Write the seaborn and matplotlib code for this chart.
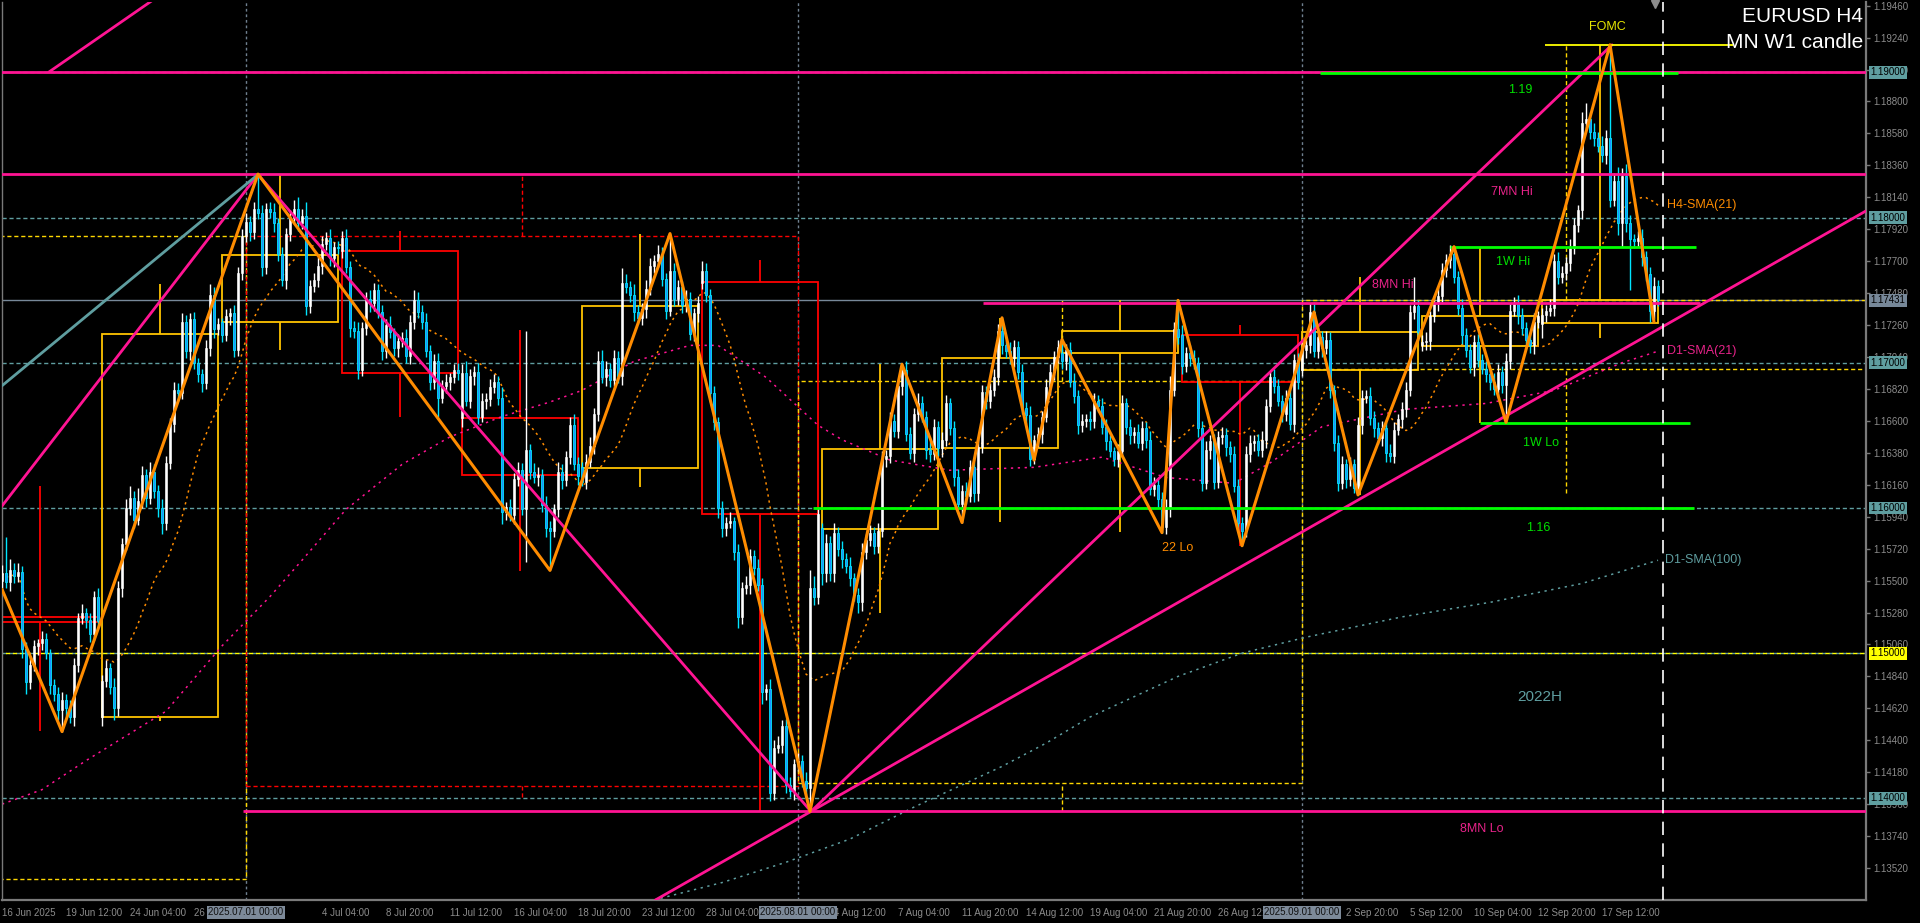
import numpy as np
import pandas as pd
import matplotlib
matplotlib.use("Agg")
import matplotlib.pyplot as plt
import matplotlib.transforms as mtransforms
from matplotlib.patches import Rectangle
import seaborn as sns

# ---------------------------------------------------------------- data
price_base = 1.1
pip = 0.0001
first_open_pips = 550

# H4 closes, pips above 1.1000 (16 Jun 20:00 ... 19 Sep)
close_pips = [
    555, 549, 557, 553, 556, 503, 480, 492, 505, 507, 510, 500, 478, 472, 461,
    468, 462, 456, 492, 524, 528, 523, 513, 539, 522, 481, 490, 477, 462, 545,
    575, 600, 607, 592, 605, 623, 607, 625, 612, 600, 590, 631, 658, 681, 679,
    728, 708, 730, 700, 692, 686, 710, 747, 723, 727, 719, 732, 734, 709, 762,
    787, 797, 790, 806, 803, 766, 806, 804, 796, 775, 757, 789, 800, 806, 796,
    801, 739, 753, 757, 767, 782, 786, 772, 780, 779, 786, 766, 724, 722, 695,
    724, 744, 741, 750, 735, 708, 726, 721, 710, 715, 717, 705, 728, 743, 735,
    728, 708, 687, 701, 676, 684, 687, 690, 695, 693, 693, 674, 691, 694, 663,
    674, 675, 683, 687, 676, 597, 601, 595, 620, 626, 599, 640, 625, 621, 623,
    602, 586, 584, 599, 625, 619, 635, 657, 630, 622, 618, 632, 643, 665, 701,
    690, 696, 688, 703, 691, 755, 752, 747, 735, 731, 737, 751, 767, 770, 775,
    758, 736, 763, 744, 752, 740, 744, 720, 734, 741, 763, 747, 679, 659, 600,
    586, 590, 591, 570, 525, 545, 547, 567, 559, 547, 473, 475, 404, 435, 437,
    450, 409, 405, 424, 426, 412, 407, 545, 539, 596, 555, 576, 555, 583, 572,
    565, 560, 552, 540, 535, 570, 578, 583, 574, 584, 634, 636, 660, 653, 684,
    695, 651, 638, 665, 672, 663, 640, 637, 656, 641, 647, 672, 655, 621, 603,
    612, 608, 628, 610, 642, 680, 674, 681, 690, 722, 712, 708, 703, 711, 694,
    669, 664, 634, 647, 651, 663, 683, 694, 704, 711, 701, 709, 687, 677, 657,
    660, 661, 660, 674, 670, 656, 646, 639, 634, 639, 672, 656, 650, 652, 645,
    655, 647, 613, 616, 606, 587, 600, 681, 723, 718, 698, 707, 703, 700, 655,
    617, 640, 646, 618, 649, 650, 642, 637, 615, 590, 584, 637, 645, 646, 640,
    647, 670, 690, 684, 674, 665, 676, 658, 702, 687, 709, 712, 735, 708, 718,
    710, 716, 681, 645, 617, 630, 620, 630, 614, 657, 676, 677, 662, 655, 648,
    655, 638, 636, 654, 661, 668, 681, 735, 739, 721, 714, 715, 732, 741, 746,
    764, 771, 775, 759, 738, 719, 709, 697, 714, 702, 696, 692, 687, 682, 694,
    685, 701, 736, 741, 733, 724, 716, 712, 728, 732, 733, 736, 738, 770, 759,
    762, 769, 779, 795, 805, 865, 868, 859, 855, 849, 843, 855, 812, 825, 796,
    829, 796, 785, 784, 786, 773, 761, 736, 753, 743,
]
upper_wick_pips = [
    6, 25, 8, 5, 6, 4, 5, 6, 4, 3, 5, 4, 3, 4, 5,
    5, 4, 6, 5, 4, 6, 3, 5, 4, 6, 4, 5, 3, 6, 5,
    4, 6, 8, 5, 9, 6, 4, 7, 5, 4, 6, 5, 4, 6, 5,
    6, 5, 4, 5, 3, 4, 6, 7, 5, 4, 3, 5, 4, 6, 4,
    5, 6, 4, 5, 24, 6, 4, 5, 6, 4, 5, 4, 5, 6, 8,
    5, 10, 4, 5, 6, 5, 4, 6, 3, 4, 5, 6, 4, 5, 6,
    4, 5, 6, 5, 4, 5, 4, 6, 3, 5, 4, 6, 5, 7, 6,
    5, 6, 4, 5, 6, 4, 5, 3, 4, 5, 6, 8, 5, 4, 6,
    5, 4, 6, 5, 4, 7, 3, 5, 4, 6, 5, 82, 4, 6, 5,
    4, 6, 5, 4, 7, 5, 4, 6, 8, 5, 4, 5, 6, 4, 7,
    8, 5, 4, 6, 5, 10, 6, 4, 7, 5, 4, 6, 5, 4, 6,
    5, 4, 26, 6, 5, 4, 6, 5, 4, 5, 7, 6, 4, 5, 4,
    5, 4, 6, 3, 5, 4, 6, 5, 4, 6, 5, 4, 7, 5, 6,
    4, 5, 6, 3, 5, 4, 6, 12, 8, 5, 4, 6, 5, 7, 4,
    5, 4, 6, 3, 5, 6, 4, 5, 4, 6, 5, 4, 6, 5, 4,
    4, 6, 5, 4, 7, 5, 4, 6, 5, 4, 5, 6, 4, 5, 6,
    4, 6, 5, 4, 6, 5, 4, 5, 6, 5, 9, 4, 6, 5, 4,
    5, 4, 6, 3, 5, 4, 6, 5, 4, 5, 6, 4, 5, 6, 4,
    5, 4, 6, 5, 4, 6, 5, 4, 3, 5, 6, 4, 5, 4, 6,
    5, 4, 6, 5, 4, 5, 6, 10, 5, 20, 7, 4, 5, 6, 4,
    5, 6, 4, 5, 4, 6, 5, 4, 6, 5, 4, 6, 5, 4, 5,
    6, 5, 4, 6, 5, 4, 5, 6, 4, 5, 6, 4, 6, 7, 5,
    4, 6, 5, 4, 5, 6, 4, 5, 4, 6, 5, 4, 6, 5, 4,
    5, 4, 6, 5, 4, 5, 6, 5, 20, 4, 5, 6, 4, 5, 6,
    5, 4, 6, 5, 4, 6, 5, 4, 5, 6, 4, 5, 4, 6, 5,
    4, 6, 5, 4, 6, 5, 4, 5, 6, 4, 5, 4, 6, 5, 6,
    5, 4, 6, 5, 4, 8, 11, 5, 6, 4, 7, 5, 64, 6, 10,
    5, 8, 6, 4, 5, 6, 4, 5, 6, 4,
]
lower_wick_pips = [
    5, 4, 6, 5, 4, 6, 8, 5, 4, 6, 5, 4, 6, 5, 7,
    15, 5, 4, 6, 5, 4, 6, 5, 4, 5, 6, 4, 5, 8, 5,
    6, 4, 5, 6, 4, 5, 6, 4, 5, 6, 8, 5, 4, 6, 5,
    4, 5, 6, 4, 5, 6, 4, 5, 6, 4, 5, 4, 6, 5, 4,
    5, 4, 6, 5, 4, 6, 5, 4, 6, 5, 4, 6, 5, 4, 5,
    4, 6, 5, 4, 5, 6, 4, 5, 6, 4, 5, 4, 6, 5, 6,
    4, 5, 6, 5, 4, 6, 5, 4, 5, 6, 4, 5, 6, 5, 4,
    5, 4, 6, 5, 13, 4, 5, 6, 4, 5, 6, 4, 5, 6, 5,
    4, 6, 5, 4, 5, 8, 5, 4, 6, 5, 4, 36, 5, 4, 6,
    5, 6, 27, 4, 5, 6, 4, 5, 4, 6, 3, 5, 4, 6, 5,
    4, 6, 5, 4, 5, 6, 4, 5, 6, 4, 5, 6, 4, 5, 4,
    5, 6, 4, 5, 4, 6, 5, 4, 5, 6, 4, 5, 6, 5, 7,
    6, 5, 4, 6, 8, 5, 4, 6, 5, 4, 8, 5, 6, 5, 4,
    6, 5, 4, 6, 5, 4, 5, 16, 6, 5, 8, 6, 5, 6, 5,
    6, 5, 6, 4, 7, 6, 5, 4, 6, 5, 4, 6, 5, 4, 5,
    6, 5, 4, 6, 5, 4, 6, 5, 4, 5, 6, 4, 5, 6, 4,
    13, 5, 4, 6, 5, 4, 6, 5, 4, 5, 6, 5, 4, 6, 5,
    4, 6, 5, 4, 5, 6, 4, 5, 6, 4, 5, 6, 4, 5, 6,
    5, 4, 6, 5, 4, 5, 6, 4, 5, 6, 4, 5, 6, 5, 4,
    5, 6, 4, 5, 6, 4, 5, 6, 4, 5, 6, 4, 5, 4, 6,
    5, 4, 6, 5, 4, 5, 6, 5, 4, 6, 10, 4, 5, 6, 4,
    5, 6, 4, 5, 4, 6, 5, 4, 6, 5, 4, 6, 5, 4, 5,
    6, 4, 5, 6, 5, 4, 6, 5, 4, 5, 6, 4, 5, 6, 4,
    5, 6, 4, 5, 4, 6, 5, 4, 5, 6, 4, 5, 6, 4, 5,
    4, 5, 6, 4, 5, 6, 5, 4, 6, 5, 4, 5, 6, 4, 5,
    6, 26, 5, 4, 6, 5, 4, 5, 6, 4, 10, 5, 4, 6, 5,
    4, 5, 6, 4, 5, 6, 4, 5, 6, 4, 5, 6, 5, 4, 8,
    16, 6, 35, 5, 4, 6, 5, 8, 6, 4,
]
# weekly opening gaps (bar, open in pips)
gap_bars = [25, 55, 85, 115, 145, 175, 205, 235, 265, 295, 325, 355, 385]
gap_open_pips = [456, 728, 777, 662, 628, 755, 586, 641, 707, 719, 695, 712, 727]

# W1 candles drawn as boxes
week_start = [-5, 25, 55, 85, 115, 145, 175, 205, 235, 265, 295, 325, 355, 385]
week_open = [1.15249, 1.14560, 1.17281, 1.17770, 1.16620, 1.16278, 1.17555,
             1.15855, 1.16411, 1.17066, 1.17192, 1.16950, 1.17116, 1.17272]
week_high = [1.16149, 1.17542, 1.18297, 1.17907, 1.17223, 1.17890, 1.17705,
             1.16990, 1.17307, 1.17433, 1.17261, 1.17593, 1.17800, 1.19190]
week_low = [1.14464, 1.14535, 1.17090, 1.16629, 1.15569, 1.16147, 1.13906,
            1.15280, 1.15905, 1.15837, 1.15738, 1.16089, 1.16587, 1.17169]
week_close = [1.15215, 1.17196, 1.17741, 1.16928, 1.16227, 1.17391, 1.15956,
              1.16404, 1.17031, 1.17219, 1.16870, 1.17210, 1.17323, 1.17431]

# MN candles drawn as dashed boxes
month_start = [-60, 61, 199, 325]
month_end = [61, 199, 325, 480]
month_open = [1.13444, 1.17872, 1.14104, 1.16960]
month_close = [1.17872, 1.14082, 1.16876, 1.17431]
month_wick_bar = [None, 130, 265, 391]
month_high = [None, 1.18297, 1.17433, 1.19190]
month_low = [None, 1.14009, 1.13913, 1.16103]

# zigzag pivots
zz_bars = [0, 15, 64, 137, 167, 202, 225, 240, 250, 258, 265, 290, 294, 310,
           328, 339, 363, 376, 402, 413]
zz_prices = [1.1544, 1.1446, 1.1830, 1.1557, 1.1789, 1.1391, 1.1699, 1.1590,
             1.1731, 1.1633, 1.1716, 1.1583, 1.1743, 1.1574, 1.1735, 1.1609,
             1.1780, 1.1659, 1.1919, 1.1728]

# daily moving averages
d1_sma21_bars = [0, 10, 21, 41, 55, 67, 75, 86, 100, 112, 125, 137, 145, 158, 172,
                 179, 191, 204, 210, 222, 237, 258, 275, 291, 308, 317, 330,
                 351, 371, 388, 405, 414]
d1_sma21 = [1.1396, 1.1406, 1.1426, 1.1460, 1.1505, 1.1539, 1.1564, 1.1599, 1.1630,
            1.1649, 1.1663, 1.1673, 1.1681, 1.1701, 1.1712, 1.1712, 1.1690,
            1.1657, 1.1647, 1.1633, 1.1626, 1.1628, 1.1635, 1.1621, 1.1617,
            1.1631, 1.1656, 1.1668, 1.1672, 1.1681, 1.1700, 1.1708]
d1_sma100_bars = [163, 180, 196, 212, 228, 250, 261, 272, 283, 294, 310, 326, 350,
                  372, 395, 414]
d1_sma100 = [1.1330, 1.1342, 1.1356, 1.1372, 1.1394, 1.1422, 1.1438, 1.1456,
             1.1470, 1.1484, 1.1500, 1.1511, 1.1525, 1.1535, 1.1548, 1.1564]

round_levels = [1.19, 1.18, 1.17, 1.16, 1.15, 1.14]
current_price = 1.17431
level_1_19 = 1.1900
mn7_hi = 1.18297
mn8_hi = 1.17414
mn8_lo = 1.13913
fomc_high = 1.19190
w1_hi = 1.17800
w1_lo = 1.16587
level_1_16 = 1.1600
level_1_19g = 1.18995

ytick_labels = ["1.19460", "1.19240", "1.19020", "1.18800", "1.18580", "1.18360",
                "1.18140", "1.17920", "1.17700", "1.17480", "1.17260", "1.17040",
                "1.16820", "1.16600", "1.16380", "1.16160", "1.15940", "1.15720",
                "1.15500", "1.15280", "1.15060", "1.14840", "1.14620", "1.14400",
                "1.14180", "1.13960", "1.13740", "1.13520"]
# labels hidden under the period-separator tags are left out
xtick_bars = [0, 16, 32, 48, 80, 96, 112, 128, 144, 160, 176, 208, 224,
              240, 256, 272, 288, 304, 336, 352, 368, 384, 400]
xtick_labels = ["16 Jun 2025", "19 Jun 12:00", "24 Jun 04:00", "26 Jun 20:00",
                "4 Jul 04:00", "8 Jul 20:00", "11 Jul 12:00",
                "16 Jul 04:00", "18 Jul 20:00", "23 Jul 12:00", "28 Jul 04:00",
                "4 Aug 12:00", "7 Aug 04:00", "11 Aug 20:00",
                "14 Aug 12:00", "19 Aug 04:00", "21 Aug 20:00", "26 Aug 12:00",
                "2 Sep 20:00", "5 Sep 12:00", "10 Sep 04:00",
                "12 Sep 20:00", "17 Sep 12:00"]
period_bars = [61, 199, 325]
period_labels = ["2025.07.01 00:00", "2025.08.01 00:00", "2025.09.01 00:00"]

# ---------------------------------------------------------------- style
sns.set_theme(style="dark")
plt.rcParams["font.family"] = ["Liberation Sans", "DejaVu Sans"]
plt.rcParams["axes.facecolor"] = "black"
plt.rcParams["figure.facecolor"] = "black"

PINK = "#FF1493"
PINK_TXT = "#E8238A"
TEAL = "#5F9EA0"
GREEN = "#00FF00"
ORANGE = "#FF8C00"
WYEL = "#FFC400"
MYEL = "#FFD700"
RED = "#FF0000"
GREY = "#8C8C8C"

fig = plt.figure(figsize=(19.2, 9.23), dpi=100, facecolor="black")
ax = fig.add_axes([2 / 1920, 23 / 923, 1864 / 1920, 898 / 923])
ax.set_facecolor("black")
ax.set_xlim(0, 466)
ax.set_ylim(1.13300, 1.19485)

# ---------------------------------------------------------------- candles
n = len(close_pips)
bars = np.arange(n)
close = price_base + np.array(close_pips) * pip
opens = np.empty(n)
opens[0] = price_base + first_open_pips * pip
opens[1:] = close[:-1]
for b, v in zip(gap_bars, gap_open_pips):
    opens[b] = price_base + v * pip
high = np.maximum(opens, close) + np.array(upper_wick_pips) * pip
low = np.minimum(opens, close) - np.array(lower_wick_pips) * pip
bull = close >= opens
body_lo = np.minimum(opens, close)
body_h = np.maximum(np.abs(close - opens), 0.00003)

# ---------------------------------------------------------------- background levels
for lv in round_levels:
    ax.axhline(lv, color=TEAL, lw=1, ls=(0, (3, 2)), zorder=1)
ax.axhline(1.15, color="#FFFF00", lw=1, ls=(2.5, (3, 2)), zorder=1.1)
ax.axhline(current_price, color="#778899", lw=1, zorder=1.2)
for pb in period_bars:
    ax.axvline(pb, color="#708090", lw=1, ls=(0, (2, 2)), zorder=1)

# month boxes
for ms, me, mo, mc, mw, mh, ml in zip(month_start, month_end, month_open, month_close,
                                      month_wick_bar, month_high, month_low):
    col = MYEL if mc >= mo else RED
    ax.add_patch(Rectangle((ms, min(mo, mc)), me - ms, abs(mc - mo), fill=False,
                           ec=col, lw=1, ls=(0, (3, 2)), zorder=1.5))
    if mw is not None:
        ax.vlines(mw, max(mo, mc), mh, colors=col, lw=1, ls=(0, (3, 2)), zorder=1.5)
        ax.vlines(mw, ml, min(mo, mc), colors=col, lw=1, ls=(0, (3, 2)), zorder=1.5)

# week boxes
for ws, wo, wh, wl, wc in zip(week_start, week_open, week_high, week_low, week_close):
    we = min(ws + 29, n)
    col = WYEL if wc >= wo else RED
    ax.add_patch(Rectangle((ws, min(wo, wc)), we - ws, abs(wc - wo), fill=False,
                           ec=col, lw=1.3, zorder=2))
    mid = (ws + we) / 2
    ax.vlines(mid, max(wo, wc), wh, colors=col, lw=1.3, zorder=2)
    ax.vlines(mid, wl, min(wo, wc), colors=col, lw=1.3, zorder=2)

# moving averages
sma_h4 = pd.Series(close).rolling(21, min_periods=1).mean()
sns.lineplot(x=bars, y=sma_h4.values, ax=ax, color=ORANGE, lw=1.1,
             linestyle=(0, (1.5, 2.5)), estimator=None, zorder=2.5)
sns.lineplot(x=d1_sma21_bars, y=d1_sma21, ax=ax, color=PINK, lw=1.1,
             linestyle=(0, (1.5, 3)), estimator=None, zorder=2.5)
sns.lineplot(x=d1_sma100_bars, y=d1_sma100, ax=ax, color=TEAL, lw=1.1,
             linestyle=(0, (1.5, 3)), estimator=None, zorder=2.5)

# candles
ax.vlines(bars[bull], low[bull], high[bull], colors="white", lw=1, zorder=3)
ax.vlines(bars[~bull], low[~bull], high[~bull], colors="#00E5FF", lw=1, zorder=3)
ax.bar(bars[bull], body_h[bull], bottom=body_lo[bull], width=0.62, color="white",
       edgecolor="white", lw=0.4, zorder=3.1)
ax.bar(bars[~bull], body_h[~bull], bottom=body_lo[~bull], width=0.62, color="#1E90FF",
       edgecolor="#00E5FF", lw=0.6, zorder=3.1)

# ---------------------------------------------------------------- objects
ax.axhline(level_1_19, color=PINK, lw=2, zorder=4)
ax.axhline(mn7_hi, color=PINK, lw=2, zorder=4)
ax.hlines(mn8_hi, 245.25, 424.5, colors=PINK, lw=2, zorder=4)
ax.hlines(mn8_lo, 60.25, 470, colors=PINK, lw=2, zorder=4)
ax.plot([0, 64], [1.16014, mn7_hi], color=PINK, lw=2, zorder=4)
ax.plot([0, 64], [1.16842, mn7_hi], color=TEAL, lw=2, zorder=4)
ax.plot([11.75, 37.75], [1.19003, 1.19499], color=PINK, lw=2, zorder=4)
ax.plot([64, 202.25], [mn7_hi, 1.13910], color=PINK, lw=2, zorder=4)
ax.plot([202.25, 402.5], [1.13910, fomc_high], color=PINK, lw=2, zorder=4)
ax.axline((202.25, 1.13910), (466, 1.18046), color=PINK, lw=2, zorder=4)

ax.hlines(level_1_19g, 329.5, 419, colors=GREEN, lw=2, zorder=4.2)
ax.hlines(w1_hi, 362, 423.5, colors=GREEN, lw=2, zorder=4.2)
ax.hlines(w1_lo, 369.5, 422, colors=GREEN, lw=2, zorder=4.2)
ax.hlines(level_1_16, 202.75, 423, colors=GREEN, lw=2, zorder=4.2)
ax.hlines(fomc_high, 385.75, 432.75, colors="#FFFF00", lw=1.3, zorder=4.2)

sns.lineplot(x=zz_bars, y=zz_prices, ax=ax, color=ORANGE, lw=2.2, estimator=None,
             sort=False, zorder=5)

ax.axvline(415.25, color="white", lw=1.2, ls=(0, (8, 5)), zorder=4.5)
ax.plot([413.25], [1.19472], marker="v", ms=6, color="#8C8C8C", clip_on=False, zorder=6)

# ---------------------------------------------------------------- texts
def lab(x, y, s, c, fs=9, ha="center"):
    ax.text(x, y, s, color=c, fontsize=fs, ha=ha, va="center", zorder=7)

lab(401.25, 1.19313, "FOMC", "#E6E600")
lab(379.5, 1.18879, "1.19", "#00E000")
lab(377.5, 1.18177, "7MN Hi", PINK_TXT)
lab(416.25, 1.18087, "H4-SMA(21)", ORANGE, ha="left")
lab(377.75, 1.17695, "1W Hi", "#00E000")
lab(347.75, 1.17536, "8MN Hi", PINK_TXT)
lab(416.25, 1.17078, "D1-SMA(21)", PINK_TXT, ha="left")
lab(384.75, 1.16448, "1W Lo", "#00E000")
lab(384, 1.15862, "1.16", "#00E000")
lab(294, 1.15724, "22 Lo", ORANGE)
lab(415.75, 1.15642, "D1-SMA(100)", TEAL, ha="left")
lab(384.5, 1.14698, "2022H", TEAL, fs=11)
lab(370, 1.13789, "8MN Lo", PINK_TXT)

fig.text(1863 / 1920, 1 - 16.5 / 923, "EURUSD H4", color="white", fontsize=15,
         ha="right", va="center")
fig.text(1863 / 1920, 1 - 43 / 923, "MN W1 candle", color="white", fontsize=15,
         ha="right", va="center")

# ---------------------------------------------------------------- axes
ax.spines["top"].set_visible(False)
for side in ["right", "bottom"]:
    ax.spines[side].set_color("#7A7A7A")
    ax.spines[side].set_linewidth(1.6)
ax.spines["left"].set_color("#7A7A7A")
ax.spines["left"].set_linewidth(1.0)
ax.grid(False)

ax.yaxis.tick_right()
ax.set_yticks([float(t) for t in ytick_labels])
ax.set_yticklabels(ytick_labels)
ax.tick_params(axis="y", colors="#7A7A7A", labelcolor=GREY, labelsize=7, length=3,
               width=1, pad=2, direction="out")
ax.set_xticks(xtick_bars)
ax.set_xticklabels(xtick_labels, ha="left")
ax.tick_params(axis="x", colors="#7A7A7A", labelcolor=GREY, labelsize=7, length=3.5,
               width=1, pad=2.5, direction="out")
ax.set_xlabel("")
ax.set_ylabel("")

ytr = mtransforms.blended_transform_factory(ax.transAxes, ax.transData)
price_tags = [(1.19, TEAL), (1.18, TEAL), (current_price, "#778899"), (1.17, TEAL),
              (1.16, TEAL), (1.15, "#FFFF00"), (1.14, TEAL)]
for v, c in price_tags:
    ax.text(1.0025, v, f"{v:.5f}", transform=ytr, ha="left", va="center", fontsize=7,
            color="black", clip_on=False, zorder=10,
            bbox=dict(boxstyle="square,pad=0.15", fc=c, ec="none"))

xtr = mtransforms.blended_transform_factory(ax.transData, ax.transAxes)
for b, s in zip(period_bars, period_labels):
    ax.text(b, -0.0135, s, transform=xtr, ha="center", va="center", fontsize=7,
            color="#111111", clip_on=False, zorder=10,
            bbox=dict(boxstyle="square,pad=0.15", fc="#7D8A99", ec="none"))

fig.savefig("out.png", dpi=100, facecolor="black")
